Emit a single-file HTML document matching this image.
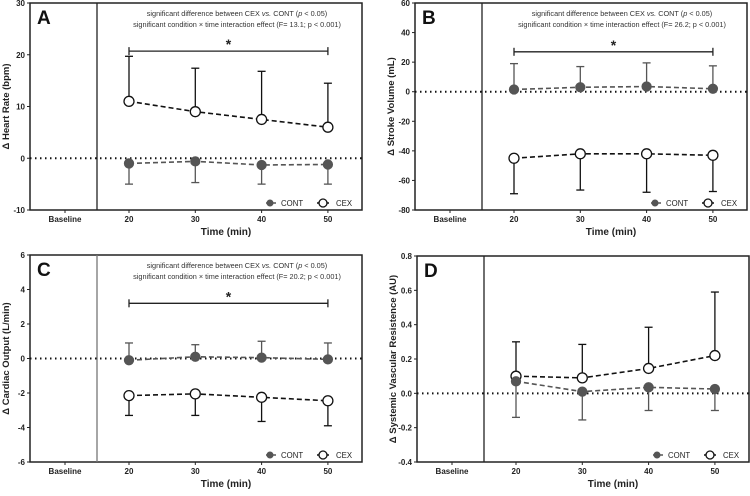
<!DOCTYPE html>
<html><head><meta charset="utf-8"><style>
body{margin:0;background:#fff;width:750px;height:491px;overflow:hidden}
svg text{font-family:"Liberation Sans",Arial,sans-serif}
</style></head><body>
<svg id="c" width="750" height="491" viewBox="0 0 750 491"></svg>
<script>
const categories=["20","30","40","50"];
const aCex=[11,9,7.5,6], aCexErr=[19.7,17.4,16.8,14.5], aCont=[-1,-0.6,-1.3,-1.2], aContErr=[-5,-4.7,-5,-5];
const bCex=[-45,-42,-42,-43], bCexErr=[-69,-66.5,-68,-67.5], bCont=[1.5,3,3.5,2], bContErr=[19,17,19.5,17.5];
const cCex=[-2.15,-2.05,-2.25,-2.45], cCexErr=[-3.3,-3.3,-3.65,-3.9], cCont=[-0.1,0.1,0.05,-0.05], cContErr=[0.9,0.8,1,0.9];
const dCex=[0.1,0.09,0.145,0.22], dCexErr=[0.3,0.285,0.385,0.59], dCont=[0.07,0.01,0.035,0.025], dContErr=[-0.14,-0.155,-0.1,-0.1];
const aTicks=[-10,0,10,20,30], bTicks=[-80,-60,-40,-20,0,20,40,60], cTicks=[-6,-4,-2,0,2,4,6], dTicks=[-0.4,-0.2,0,0.2,0.4,0.6,0.8];
const aF="significant condition \u00d7 time interaction effect (F= 13.1; p < 0.001)";
const bF="significant condition \u00d7 time interaction effect (F= 26.2; p < 0.001)";
const cF="significant condition \u00d7 time interaction effect (F= 20.2; p < 0.001)";
const svg=document.getElementById('c');NS="http://www.w3.org/2000/svg";
function mk(t,a,p){const e=document.createElementNS(NS,t);for(const k in a)e.setAttribute(k,a[k]);(p||svg).appendChild(e);return e;}
function panel(o){
 const g=mk('g',{});
 
 
 const L=o.left,R=L+332,T=o.top,B=o.bot,min=o.ticks[0],max=o.ticks[o.ticks.length-1];
 const y=v=>B-(v-min)/(max-min)*(B-T);
 const x=i=>L+99+i*66.3;
 mk('rect',{x:L,y:T,width:R-L,height:B-T,fill:'none',stroke:'#222','stroke-width':1.5},g);
 mk('line',{x1:L+67,x2:L+67,y1:T,y2:B,stroke:o.divc||'#222','stroke-width':1.3},g);
 o.ticks.forEach(t=>{mk('line',{x1:L-3,x2:L,y1:y(t),y2:y(t),stroke:'#222'},g);
  const tx=mk('text',{x:L-5,y:y(t)+3,'text-anchor':'end','font-size':8,'font-weight':'bold',fill:'#222'},g);tx.textContent=Math.abs(t)<1&&t!==0?t.toFixed(1):(o.dec?t.toFixed(1):t);
  });
 const xl=['Baseline'].concat(categories);
 xl.forEach((c,i)=>{const xx=i==0?L+35:x(i-1);mk('line',{x1:xx,x2:xx,y1:B,y2:B+3,stroke:'#222'},g);
  const t=mk('text',{x:xx,y:B+12,'text-anchor':'middle','font-size':8,'font-weight':'bold',fill:'#222'},g);t.textContent=c;
  });
 const xt=mk('text',{x:L+196,y:B+25,'text-anchor':'middle','font-size':10,'font-weight':'bold',fill:'#222'},g);xt.textContent='Time (min)';
 
 const yt=mk('text',{x:0,y:0,transform:`translate(${L-21},${(T+B)/2}) rotate(-90)`,'text-anchor':'middle','font-size':9.5,'font-weight':'bold',fill:'#222'},g);yt.textContent=o.ytitle;
 
 const lt=mk('text',{x:L+7,y:T+21,'font-size':19,'font-weight':'bold',fill:'#111'},g);lt.textContent=o.letter;
 
 mk('line',{x1:L,x2:R,y1:y(0),y2:y(0),stroke:'#111','stroke-width':2,'stroke-dasharray':'1.5 3.5'},g);
 if(o.f){const a=mk('text',{x:L+207,y:T+13,'text-anchor':'middle','font-size':7.3,fill:'#333'},g);
  a.innerHTML='significant difference between CEX <tspan font-style="italic">vs.</tspan> CONT (<tspan font-style="italic">p</tspan> &lt; 0.05)';
  
  const b=mk('text',{x:L+207,y:T+24,'text-anchor':'middle','font-size':7.3,fill:'#333'},g);b.textContent=o.f;
  
  const by=y(o.bar);mk('line',{x1:x(0),x2:x(3),y1:by,y2:by,stroke:'#222','stroke-width':1.3},g);
  mk('line',{x1:x(0),x2:x(0),y1:by-4,y2:by+4,stroke:'#222','stroke-width':1.3},g);
  mk('line',{x1:x(3),x2:x(3),y1:by-4,y2:by+4,stroke:'#222','stroke-width':1.3},g);
  const s=mk('text',{x:(x(0)+x(3))/2,y:by-2,'text-anchor':'middle','font-size':14,'font-weight':'bold',fill:'#222'},g);s.textContent='*';
  }
 function series(vals,errs,col,open,name){
  vals.forEach((v,i)=>{mk('line',{x1:x(i),x2:x(i),y1:y(v),y2:y(errs[i]),stroke:col,'stroke-width':1.3},g);
   mk('line',{x1:x(i)-4,x2:x(i)+4,y1:y(errs[i]),y2:y(errs[i]),stroke:col,'stroke-width':1.3},g);});
  const pl=mk('polyline',{points:vals.map((v,i)=>x(i)+','+y(v)).join(' '),fill:'none',stroke:col,'stroke-width':1.6,'stroke-dasharray':'5 3'},g);
  
  vals.forEach((v,i)=>{const c=mk('circle',{cx:x(i),cy:y(v),r:open?5:4.5,fill:open?'#fff':col,stroke:open?'#111':col,'stroke-width':1.3},g);
   });
 }
 if(o.contFirst){series(o.cex,o.cexE,'#111',true,'cex');series(o.cont,o.contE,'#555',false,'cont');}
 else{series(o.cont,o.contE,'#555',false,'cont');series(o.cex,o.cexE,'#111',true,'cex');}
 const ly=B-7;
 mk('line',{x1:L+236,x2:L+246,y1:ly,y2:ly,stroke:'#555','stroke-width':1.5},g);
 const c1=mk('circle',{cx:L+240,cy:ly,r:3.5,fill:'#555'},g);
 const t1=mk('text',{x:L+251,y:ly+3,'font-size':7.8,fill:'#222'},g);t1.textContent='CONT';
 mk('line',{x1:L+287,x2:L+299,y1:ly,y2:ly,stroke:'#111','stroke-width':1.5},g);
 const c2=mk('circle',{cx:L+293,cy:ly,r:4,fill:'#fff',stroke:'#111','stroke-width':1.3},g);
 const t2=mk('text',{x:L+306,y:ly+3,'font-size':7.8,fill:'#222'},g);t2.textContent='CEX';
}
panel({letter:'A',left:30,top:3,bot:210,ticks:aTicks,ytitle:'\u0394 Heart Rate (bpm)',cex:aCex,cexE:aCexErr,cont:aCont,contE:aContErr,f:aF,bar:20.7});
panel({letter:'B',left:415,top:3,bot:210,ticks:bTicks,ytitle:'\u0394 Stroke Volume (mL)',cex:bCex,cexE:bCexErr,cont:bCont,contE:bContErr,f:bF,bar:27});
panel({letter:'C',left:30,top:255,bot:462,ticks:cTicks,ytitle:'\u0394 Cardiac Output (L/min)',cex:cCex,cexE:cCexErr,cont:cCont,contE:cContErr,f:cF,bar:3.2,divc:'#777'});
panel({letter:'D',left:417,top:256,bot:462,ticks:dTicks,dec:true,ytitle:'\u0394 Systemic Vascular Resistence (AU)',cex:dCex,cexE:dCexErr,cont:dCont,contE:dContErr,contFirst:true});
</script>
</body></html>
